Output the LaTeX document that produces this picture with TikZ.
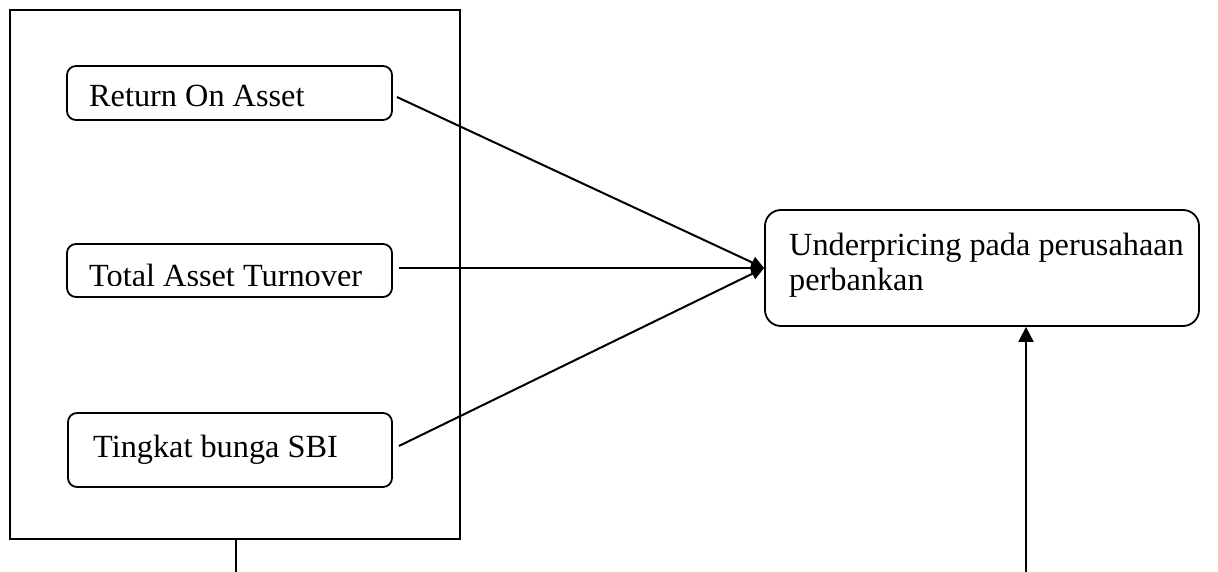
\documentclass[tikz,border=0pt]{standalone}
\usepackage{fontspec}
\setmainfont{Liberation Serif}
\usetikzlibrary{arrows.meta,calc}
\begin{document}
\begin{tikzpicture}[x=1pt,y=-1pt,
  outerbox/.style={draw,line width=2.2pt,inner sep=0,rectangle},
  varbox/.style={draw,line width=1.8pt,rounded corners=9pt,inner sep=0,rectangle},
  lbl/.style={anchor=base west,inner sep=0,font=\fontsize{32.3}{35}\selectfont},
  conn/.style={line width=2pt,-{Triangle[length=13pt,width=12pt]}},
  plain/.style={line width=2pt}]
\useasboundingbox (0,0) rectangle (1218,572);
\node[outerbox,minimum width=450pt,minimum height=529pt] (outer) at (235,274.5) {};
\node[varbox,minimum width=325pt,minimum height=54pt] (roa) at (229.5,93) {};
\node[varbox,minimum width=325pt,minimum height=53pt] (tat) at (229.5,270.5) {};
\node[varbox,minimum width=324pt,minimum height=74pt] (sbi) at (230,450) {};
\node[varbox,minimum width=434pt,minimum height=116pt,rounded corners=16pt] (ub) at (982,268) {};
\node[lbl] (troa) at (89,107) {Return On Asset};
\begin{scope}
\clip (60,240) rectangle (400,285.5);
\node[lbl] (ttat) at (89,286.5) {Total Asset Turnover};
\end{scope}
\node[lbl] (tsbi) at (93,457) {Tingkat bunga SBI};
\node[lbl] (tub1) at (789,255) {Underpricing pada perusahaan};
\node[lbl] (tub2) at (789,290) {perbankan};
\draw[conn] ($(roa.east)+(4,4)$) -- (ub.west);
\draw[conn] ($(tat.east)+(6,-2.5)$) -- (ub.west);
\draw[conn] ($(sbi.east)+(6,-4)$) -- (ub.west);
\coordinate (b1) at (235.5,572);
\coordinate (b2) at (1026,572);
\draw[plain] (outer.south -| b1) -- (b1);
\draw[line width=2pt,-{Triangle[length=15pt,width=15pt]}] (b2) -- (b2 |- ub.south);
\end{tikzpicture}
\end{document}
